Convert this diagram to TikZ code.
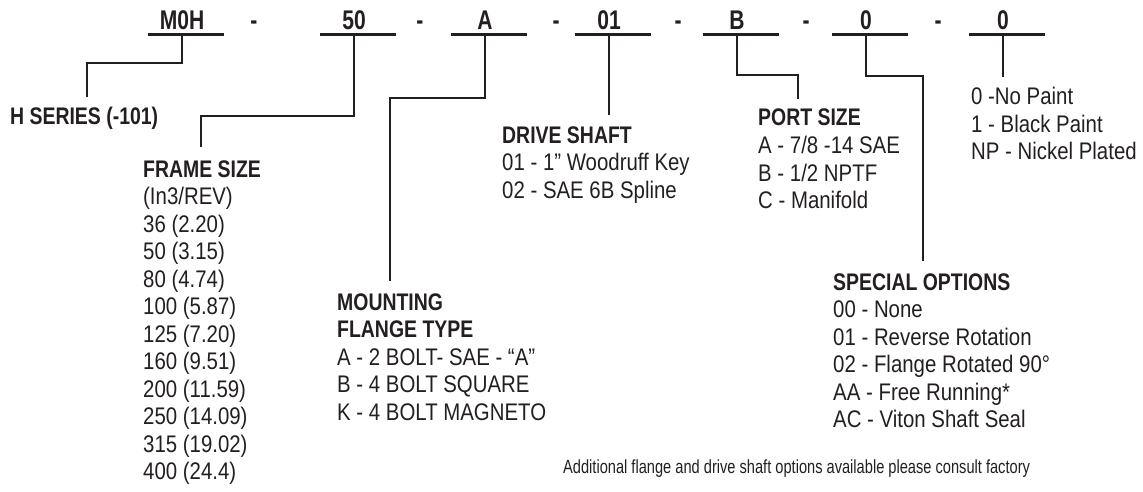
\documentclass[tikz,border=0pt]{standalone}
\usepackage{fontspec}
\setmainfont{Liberation Sans}
\newfontfamily\codef[FakeStretch=0.78]{Liberation Sans}
\newfontfamily\headf[FakeStretch=0.81]{Liberation Sans}
\newfontfamily\bodyf[FakeStretch=0.85]{Liberation Sans}
\newfontfamily\notef[FakeStretch=0.77]{Liberation Sans}
\definecolor{ink}{RGB}{35,31,32}
\tikzset{
  code/.style={font=\codef\bfseries\fontsize{27}{30}\selectfont, inner sep=0pt, text height=19pt, text depth=4pt, text=ink, anchor=base},
  sepdash/.style={font=\codef\bfseries\fontsize{27}{30}\selectfont, inner sep=0pt, anchor=base, text=ink},
  head/.style={font=\headf\bfseries\fontsize{24}{27}\selectfont, inner sep=0pt, anchor=base west, text=ink},
  item/.style={font=\bodyf\fontsize{24}{27}\selectfont, inner sep=0pt, anchor=base west, text=ink},
  note/.style={font=\notef\fontsize{19}{20}\selectfont, inner sep=0pt, anchor=base west, text=ink},
  conn/.style={draw=ink, line width=2.8pt},
}
\begin{document}
\begin{tikzpicture}[x=1pt, y=-1pt]
\useasboundingbox (0,0) rectangle (1143,492);
% code letters
\node[code] (c1) at (182,30) {M0H};
\node[code] (c2) at (354,30) {50};
\node[code] (c3) at (485,30) {A};
\node[code] (c4) at (609,30) {01};
\node[code] (c5) at (737,30) {B};
\node[code] (c6) at (866,30) {0};
\node[code] (c7) at (1003,30) {0};
\foreach \x [count=\i] in {254,420,556,678,806,938}
  \node[sepdash] (d\i) at (\x,30) {-};
% underlines
\foreach \i in {1,...,7}
  \draw[conn] ([xshift=-34pt]c\i.south) -- ([xshift=42pt]c\i.south);
% headings
\node[head] (hs) at (10,125) {H SERIES (-101)};
\node[head] (fs) at (143,177) {FRAME SIZE};
\node[head] (mf) at (337,310) {MOUNTING};
\node[head] (mf2) at (337,337.5) {FLANGE TYPE};
\node[head] (ds) at (502,143) {DRIVE SHAFT};
\node[head] (ps) at (758,126) {PORT SIZE};
\node[head] (so) at (833,290) {SPECIAL OPTIONS};
% lists
\foreach \t [count=\i] in {{(In3/REV)},{36 (2.20)},{50 (3.15)},{80 (4.74)},{100 (5.87)},{125 (7.20)},{160 (9.51)},{200 (11.59)},{250 (14.09)},{315 (19.02)},{400 (24.4)}}
  \node[item] (fs\i) at (143,{177+27.5*\i}) {\t};
\foreach \t [count=\i] in {{A - 2 BOLT- SAE - “A”},{B - 4 BOLT SQUARE},{K - 4 BOLT MAGNETO}}
  \node[item] (mf\i) at (337,{337.5+27.5*\i}) {\t};
\foreach \t [count=\i] in {{01 - 1” Woodruff Key},{02 - SAE 6B Spline}}
  \node[item] (ds\i) at (502,{143+27.5*\i}) {\t};
\foreach \t [count=\i] in {{A - 7/8 -14 SAE},{B - 1/2 NPTF},{C - Manifold}}
  \node[item] (ps\i) at (758,{126+27.5*\i}) {\t};
\foreach \t [count=\i] in {{00 - None},{01 - Reverse Rotation},{02 - Flange Rotated 90°},{AA - Free Running*},{AC - Viton Shaft Seal}}
  \node[item] (so\i) at (833,{290+27.5*\i}) {\t};
\foreach \t [count=\i from 0] in {{0 -No Paint},{1 - Black Paint},{NP - Nickel Plated}}
  \node[item] (pt\i) at (971,{105+27.5*\i}) {\t};
\node[note] (nt) at (563,473) {Additional flange and drive shaft options available please consult factory};
% connectors
\coordinate (j1) at (87,63);   \coordinate (e1) at (87,97);
\coordinate (j2) at (201,116); \coordinate (e2) at (201,147);
\coordinate (j3) at (390,98);  \coordinate (e3) at (390,281);
\coordinate (e4) at (609,115);
\coordinate (j5) at (798,75);  \coordinate (e5) at (798,99);
\coordinate (j6) at (923,76);  \coordinate (e6) at (923,261);
\coordinate (e7) at (1003,77);
\draw[conn] (c1.south) |- (j1) -- (e1);
\draw[conn] (c2.south) |- (j2) -- (e2);
\draw[conn] (c3.south) |- (j3) -- (e3);
\draw[conn] (c4.south) -- (e4);
\draw[conn] (c5.south) |- (j5) -- (e5);
\draw[conn] (c6.south) |- (j6) -- (e6);
\draw[conn] (c7.south) -- (e7);
\end{tikzpicture}
\end{document}
